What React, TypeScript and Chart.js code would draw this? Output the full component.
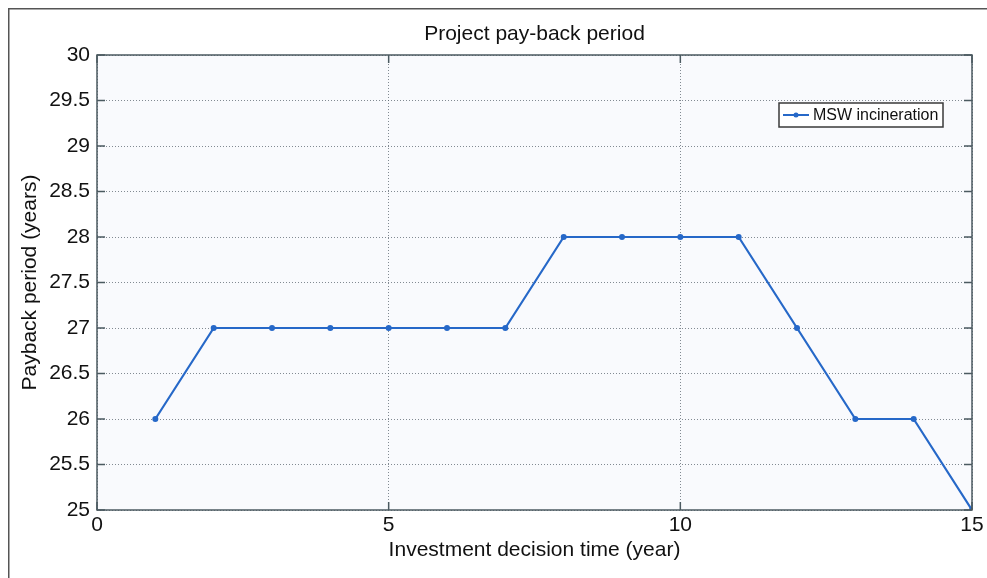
import React, { useEffect, useRef } from "react";
import { Chart, registerables } from "chart.js";

Chart.register(...registerables);

const investmentYears = [1, 2, 3, 4, 5, 6, 7, 8, 9, 10, 11, 12, 13, 14, 15];
const paybackYears = [26, 27, 27, 27, 27, 27, 27, 28, 28, 28, 28, 27, 26, 26, 25];
const seriesLabel = "MSW incineration";
const chartTitle = "Project pay-back period";
const xTitle = "Investment decision time (year)";
const yTitle = "Payback period (years)";
const xTicks = [0, 5, 10, 15];
const yTicks = [25, 25.5, 26, 26.5, 27, 27.5, 28, 28.5, 29, 29.5, 30];

const FONT = "'Liberation Sans', Arial, Helvetica, sans-serif";
const LINE_COLOR = "#2668c8";

const framePlugin = {
  id: "framePlugin",
  beforeDraw(chart: any) {
    const { ctx, chartArea: a } = chart;
    ctx.save();
    ctx.fillStyle = "#ffffff";
    ctx.fillRect(0, 0, chart.width, chart.height);
    // outer figure frame
    ctx.strokeStyle = "#555555";
    ctx.lineWidth = 1.5;
    ctx.beginPath();
    ctx.moveTo(0.75, chart.height);
    ctx.lineTo(0.75, 0.75);
    ctx.lineTo(chart.width, 0.75);
    ctx.stroke();
    // plot background
    ctx.fillStyle = "#f9fafd";
    ctx.fillRect(a.left, a.top, a.right - a.left, a.bottom - a.top);
    ctx.restore();
  },
  afterDatasetsDraw(chart: any) {
    const { ctx, chartArea: a, scales } = chart;
    ctx.save();
    ctx.strokeStyle = "#4b5a60";
    ctx.lineWidth = 1.5;
    ctx.strokeRect(a.left, a.top, a.right - a.left, a.bottom - a.top);
    const tl = 8;
    ctx.beginPath();
    scales.y.ticks.forEach((t: any) => {
      const py = scales.y.getPixelForValue(t.value);
      ctx.moveTo(a.left, py);
      ctx.lineTo(a.left + tl, py);
      ctx.moveTo(a.right, py);
      ctx.lineTo(a.right - tl, py);
    });
    scales.x.ticks.forEach((t: any) => {
      const px = scales.x.getPixelForValue(t.value);
      ctx.moveTo(px, a.bottom);
      ctx.lineTo(px, a.bottom - tl);
      ctx.moveTo(px, a.top);
      ctx.lineTo(px, a.top + tl);
    });
    ctx.stroke();

    // legend box
    const ds = chart.data.datasets[0];
    const lx = 771, ly = 95, lw = 164, lh = 24;
    ctx.fillStyle = "#ffffff";
    ctx.fillRect(lx, ly, lw, lh);
    ctx.strokeStyle = "#3a3a3a";
    ctx.lineWidth = 1.5;
    ctx.strokeRect(lx, ly, lw, lh);
    const cy = ly + lh / 2;
    ctx.strokeStyle = ds.borderColor;
    ctx.lineWidth = 2;
    ctx.beginPath();
    ctx.moveTo(lx + 4, cy);
    ctx.lineTo(lx + 30, cy);
    ctx.stroke();
    ctx.fillStyle = ds.borderColor;
    ctx.beginPath();
    ctx.arc(lx + 17, cy, 2.5, 0, Math.PI * 2);
    ctx.fill();
    ctx.fillStyle = "#111111";
    ctx.font = `16px ${FONT}`;
    ctx.textBaseline = "middle";
    ctx.textAlign = "left";
    ctx.fillText(ds.label, lx + 34, cy + 1);
    ctx.restore();
  },
};

export default function App() {
  const ref = useRef<HTMLCanvasElement | null>(null);
  useEffect(() => {
    document.body.style.margin = "0";
    if (!ref.current) return;
    const gridCommon = {
      color: "rgba(90,100,110,0.75)",
      lineWidth: 1,
      drawTicks: false,
    };
    const chart = new Chart(ref.current, {
      type: "line",
      data: {
        datasets: [
          {
            label: seriesLabel,
            data: investmentYears.map((x, i) => ({ x, y: paybackYears[i] })),
            borderColor: LINE_COLOR,
            backgroundColor: LINE_COLOR,
            borderWidth: 2.2,
            pointRadius: 3,
            pointBorderWidth: 0,
            pointBackgroundColor: LINE_COLOR,
            tension: 0,
            xAxisID: "x",
            yAxisID: "y",
          },
        ],
      },
      options: {
        animation: false,
        responsive: false,
        devicePixelRatio: 1,
        layout: { padding: { left: 0, right: 15, top: 0, bottom: 0 } },
        plugins: {
          legend: { display: false },
          title: { display: false },
          tooltip: { enabled: false },
        },
        scales: {
          x: {
            type: "linear",
            position: "bottom",
            min: 0,
            max: 15,
            afterBuildTicks: (s: any) => {
              s.ticks = xTicks.map((v) => ({ value: v }));
            },
            afterFit: (s: any) => {
              s.height = 68;
            },
            ticks: {
              padding: 3,
              color: "#111111",
              font: { family: FONT, size: 21 },
              maxRotation: 0,
              callback: (v: any) => String(v),
            },
            grid: gridCommon,
            border: { display: false, dash: [1, 2] },
            title: {
              display: true,
              text: xTitle,
              color: "#111111",
              font: { family: FONT, size: 21 },
              padding: { top: 0, bottom: 15 },
            },
          },
          xTop: {
            type: "linear",
            position: "top",
            min: 0,
            max: 15,
            afterFit: (s: any) => {
              s.height = 47;
            },
            ticks: { display: false },
            grid: { display: false },
            border: { display: false },
            title: {
              display: true,
              text: chartTitle,
              color: "#111111",
              font: { family: FONT, size: 21 },
              padding: { top: 13.5, bottom: 0 },
            },
          },
          y: {
            type: "linear",
            position: "left",
            min: 25,
            max: 30,
            afterBuildTicks: (s: any) => {
              s.ticks = yTicks.map((v) => ({ value: v }));
            },
            afterFit: (s: any) => {
              s.width = 89;
            },
            ticks: {
              padding: 7,
              color: "#111111",
              font: { family: FONT, size: 21 },
              callback: (v: any) => String(v),
            },
            grid: gridCommon,
            border: { display: false, dash: [1, 2] },
            title: {
              display: true,
              text: yTitle,
              color: "#111111",
              font: { family: FONT, size: 21 },
              padding: { top: 10, bottom: 0 },
            },
          },
        },
      } as any,
      plugins: [framePlugin],
    });
    return () => chart.destroy();
  }, []);
  return (
    <div
      style={{
        width: 987,
        height: 578,
        paddingLeft: 8,
        paddingTop: 8,
        boxSizing: "border-box",
        overflow: "hidden",
        background: "#ffffff",
      }}
    >
      <canvas
        ref={ref}
        width={979}
        height={570}
        style={{ display: "block", width: 979, height: 570 }}
      />
    </div>
  );
}
